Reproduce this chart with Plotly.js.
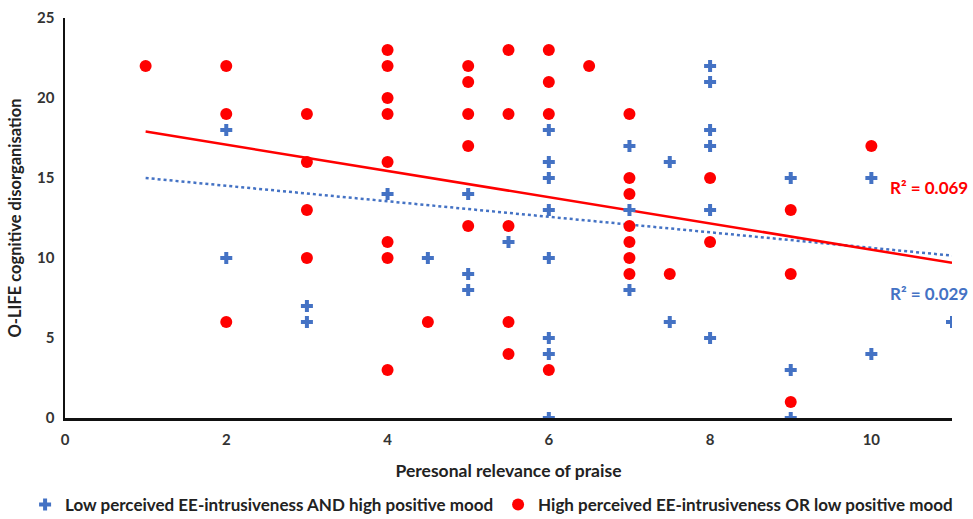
<!DOCTYPE html>
<html>
<head>
<meta charset="utf-8">
<script src="https://cdn.plot.ly/plotly-3.0.1.min.js"></script>
<style>
html,body{margin:0;padding:0;background:#fff;}
#chart{width:973px;height:519px;}
</style>
</head>
<body>
<div id="chart"></div>
<script>
// Series: Low perceived EE-intrusiveness AND high positive mood (blue crosses)
const lowX = [2,2,3,3,4,4.5,5,5,5,5.5,6,6,6,6,6,6,6,6,7,7,7,7.5,7.5,8,8,8,8,8,8,9,9,9,10,10,11];
const lowY = [18,10,7,6,14,10,14,9,8,11,18,16,15,13,10,5,4,0,17,13,8,16,6,22,21,18,17,13,5,15,3,0,15,4,6];

// Series: High perceived EE-intrusiveness OR low positive mood (red dots)
const highX = [1,2,2,2,3,3,3,3,4,4,4,4,4,4,4,4,4.5,5,5,5,5,5,5.5,5.5,5.5,5.5,5.5,6,6,6,6,6.5,7,7,7,7,7,7,7,7.5,8,8,9,9,9,10];
const highY = [22,22,19,6,19,16,13,10,23,22,20,19,16,11,10,3,6,22,21,19,17,12,23,19,12,6,4,23,21,19,3,22,19,15,14,12,11,10,9,9,15,11,13,9,1,17];

// Linear trend lines (values at x = 1 and x = 11)
const trendX = [1, 11];
const lowTrendY = [15.0, 10.15];
const highTrendY = [17.9, 9.7];

const seriesNames = ["Low perceived EE-intrusiveness AND high positive mood",
                     "High perceived EE-intrusiveness OR low positive mood"];
const r2Labels = ["R² = 0.029", "R² = 0.069"];
const xTitle = "Peresonal relevance of praise";
const yTitle = "O-LIFE cognitive disorganisation";

const blue = '#4472C4', red = '#FF0000';
const font = 'Lato, "Open Sans", sans-serif';

const traces = [
  {x: trendX, y: lowTrendY, mode:'lines', line:{color:blue, width:2.5, dash:'dot'}, showlegend:false, hoverinfo:'skip'},
  {x: trendX, y: highTrendY, mode:'lines', line:{color:red, width:2.5}, showlegend:false, hoverinfo:'skip'},
  {x: lowX, y: lowY, name: seriesNames[0], mode:'markers', type:'scatter',
   marker:{symbol:'cross', size:10, color:blue}},
  {x: highX, y: highY, name: seriesNames[1], mode:'markers', type:'scatter',
   marker:{symbol:'circle', size:12, color:red}}
];

const layout = {
  width: 973, height: 519,
  margin: {l:65, r:21, t:18, b:101, autoexpand:false},
  paper_bgcolor:'#fff', plot_bgcolor:'#fff',
  font: {family: font, color:'#333', size:14},
  showlegend: true,
  legend: {orientation:'h', x:-0.045, xanchor:'left', y:-0.2175, yanchor:'middle',
           font:{family:font, size:17, color:'#222', weight:'bold'}, itemwidth:30, tracegroupgap:0},
  xaxis: {range:[0,11], dtick:2, tick0:0, showgrid:false, zeroline:false, automargin:false,
          showline:true, linecolor:'#111', linewidth:2.5, ticks:'outside', ticklen:6, tickcolor:'rgba(0,0,0,0)',
          tickfont:{family:font, size:15, color:'#333', weight:'bold'},
          title:{text:xTitle, font:{family:font, size:17.5, color:'#222', weight:'bold'}, standoff:18}},
  yaxis: {range:[0,25], dtick:5, showgrid:false, zeroline:false, automargin:false,
          showline:true, linecolor:'#111', linewidth:2.5, ticks:'outside', ticklen:5, tickcolor:'rgba(0,0,0,0)',
          tickfont:{family:font, size:15, color:'#333', weight:'bold'},
          title:{text:yTitle, font:{family:font, size:16.5, color:'#222', weight:'bold'}, standoff:12}},
  annotations: [
    {xref:'paper', yref:'y', x:1.0203, y:14.4, xanchor:'right', yanchor:'middle', showarrow:false,
     text:r2Labels[1], font:{family:font, size:17, color:red, weight:'bold'}},
    {xref:'paper', yref:'y', x:1.0203, y:7.8, xanchor:'right', yanchor:'middle', showarrow:false,
     text:r2Labels[0], font:{family:font, size:17, color:blue, weight:'bold'}}
  ]
};

Plotly.newPlot('chart', traces, layout, {displayModeBar:false, staticPlot:true});
</script>
</body>
</html>
